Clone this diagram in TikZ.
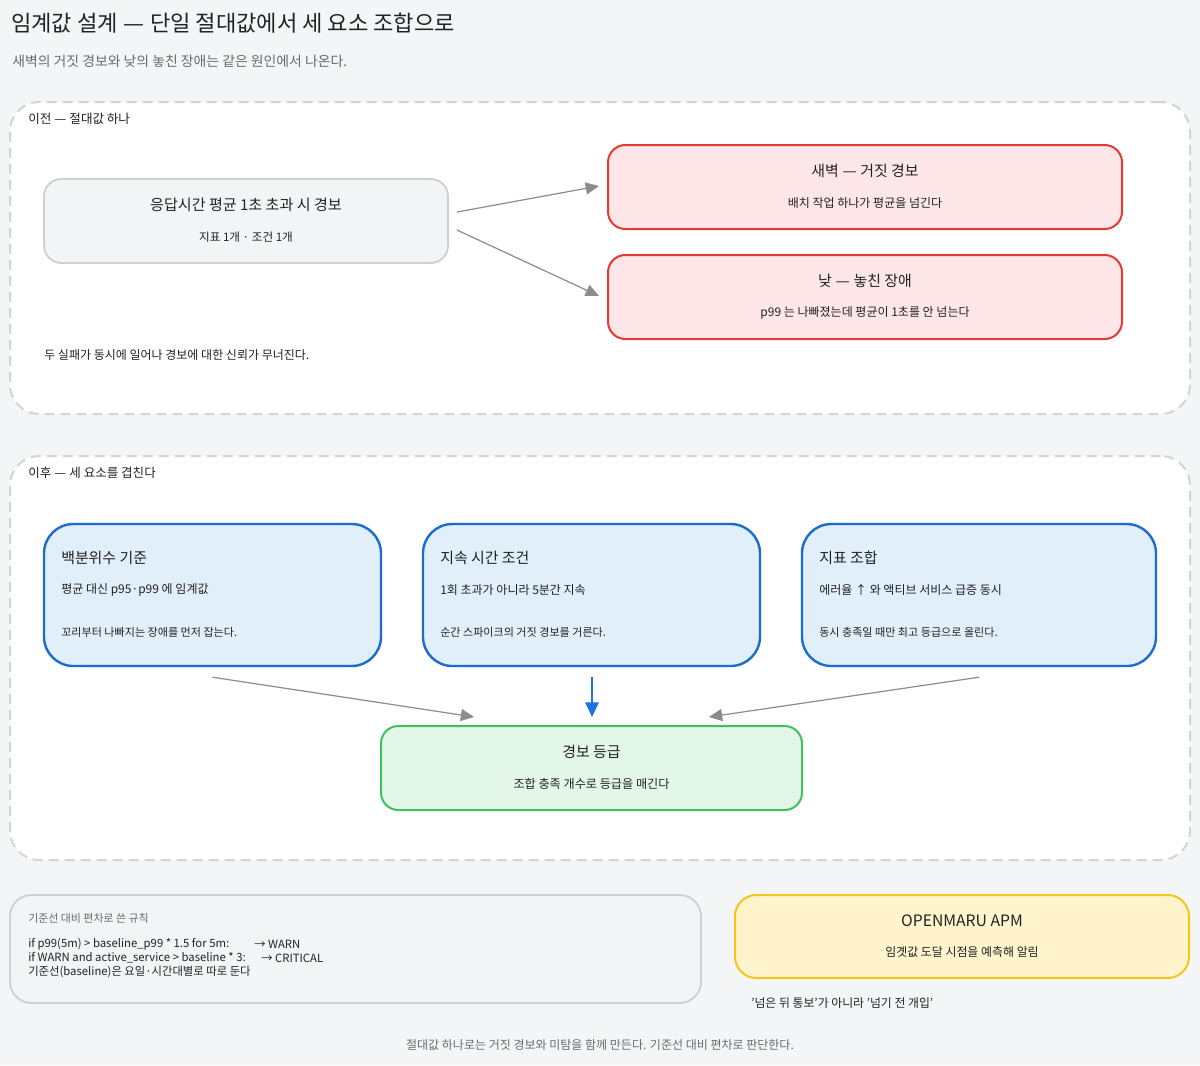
\documentclass[tikz,border=0pt]{standalone}
\usepackage{fontspec}
\setmainfont{Noto Sans CJK KR}
\usetikzlibrary{arrows.meta,calc}
\definecolor{bgc}{HTML}{F4F5F7}
\definecolor{dashc}{HTML}{D3D4D8}
\definecolor{grayfill}{HTML}{F3F4F6}
\definecolor{graystroke}{HTML}{CFD0D3}
\definecolor{redfill}{HTML}{FDE6E8}
\definecolor{redstroke}{HTML}{E53935}
\definecolor{bluefill}{HTML}{E1EFFB}
\definecolor{bluestroke}{HTML}{1A6DCC}
\definecolor{greenfill}{HTML}{E3F7E8}
\definecolor{greenstroke}{HTML}{3CC35A}
\definecolor{yellowfill}{HTML}{FFF4CC}
\definecolor{yellowstroke}{HTML}{F5C518}
\definecolor{arrowgray}{HTML}{8C8C8C}
\definecolor{arrowblue}{HTML}{1A73E8}
\definecolor{darktext}{HTML}{222222}
\definecolor{greytext}{HTML}{6B6B6B}
\newcommand{\fsz}[1]{\fontsize{#1}{#1}\selectfont}
\newcommand{\emd}{\makebox[1em]{\resizebox{0.95em}{\height}{—}}}
\begin{document}
\begin{tikzpicture}[x=0.75pt,y=-0.75pt,
  txt/.style={inner sep=0pt, text=darktext},
  grouprect/.style={draw=dashc, fill=white, line width=1.5pt, dash pattern=on 7.5pt off 4.5pt, rounded corners=22pt},
  graybox/.style={draw=graystroke, fill=grayfill, line width=1.4pt, rounded corners=13pt},
  redbox/.style={draw=redstroke, fill=redfill, line width=1.5pt, rounded corners=13pt},
  bluebox/.style={draw=bluestroke, fill=bluefill, line width=1.8pt, rounded corners=22pt},
  greenbox/.style={draw=greenstroke, fill=greenfill, line width=1.5pt, rounded corners=13pt},
  yellowbox/.style={draw=yellowstroke, fill=yellowfill, line width=1.5pt, rounded corners=16pt},
  rulebox/.style={draw=graystroke, fill=grayfill, line width=1.4pt, rounded corners=16pt},
  grayarrow/.style={draw=arrowgray, line width=0.9pt, -{Triangle[length=10pt,width=9pt]}, arrowgray},
  bluearrow/.style={draw=arrowblue, line width=1.5pt, -{Triangle[length=11pt,width=10pt]}, arrowblue}
]
\useasboundingbox[fill=bgc] (0,0) rectangle (1200,1065);

% title
\node[txt, anchor=west, font=\fsz{16.6}] (title) at (11,23) {임계값 설계 \emd{} 단일 절대값에서 세 요소 조합으로};
\node[txt, anchor=west, font=\fsz{10.4}, text=greytext] (subtitle) at (12,61) {새벽의 거짓 경보와 낮의 놓친 장애는 같은 원인에서 나온다.};

% group 1
\node[grouprect, minimum width=885pt, minimum height=234pt] (g1) at (600,258) {};
\node[txt, anchor=west, font=\fsz{9.4}] (g1label) at (28,119) {이전 \emd{} 절대값 하나};

\node[graybox, minimum width=303pt, minimum height=63pt] (A) at (246,221) {};
\node[txt, font=\fsz{11.3}] (Atitle) at (246,205) {응답시간 평균 1초 초과 시 경보};
\node[txt, font=\fsz{8.7}] (Asub) at (246,237) {지표 1개 · 조건 1개};

\node[redbox, minimum width=385.5pt, minimum height=63pt] (R1) at (865,187) {};
\node[txt, font=\fsz{11.2}] (R1title) at (865,171) {새벽 \emd{} 거짓 경보};
\node[txt, font=\fsz{9}] (R1sub) at (865,203) {배치 작업 하나가 평균을 넘긴다};

\node[redbox, minimum width=385.5pt, minimum height=63pt] (R2) at (865,297) {};
\node[txt, font=\fsz{11.2}] (R2title) at (865,281) {낮 \emd{} 놓친 장애};
\node[txt, font=\fsz{9}] (R2sub) at (865,313) {p99 는 나빠졌는데 평균이 1초를 안 넘는다};

\draw[grayarrow] ([xshift=6pt,yshift=6.75pt]A.east) -- ([xshift=-6pt,yshift=0.75pt]R1.west);
\draw[grayarrow] ([xshift=6pt,yshift=-6.75pt]A.east) -- ([xshift=-6pt,yshift=0.75pt]R2.west);

\node[txt, anchor=west, font=\fsz{9}] (g1note) at (44,355) {두 실패가 동시에 일어나 경보에 대한 신뢰가 무너진다.};

% group 2
\node[grouprect, minimum width=885pt, minimum height=303pt] (g2) at (600,658) {};
\node[txt, anchor=west, font=\fsz{9.4}] (g2label) at (28,473) {이후 \emd{} 세 요소를 겹친다};

\node[bluebox, minimum width=252.75pt, minimum height=106.5pt] (B1) at (212.5,595) {};
\node[txt, anchor=west, font=\fsz{11.2}] (B1title) at (61,558) {백분위수 기준};
\node[txt, anchor=west, font=\fsz{9}] (B1l2) at (61,590) {평균 대신 p95·p99 에 임계값};
\node[txt, anchor=west, font=\fsz{8.3}] (B1l3) at (61,632) {꼬리부터 나빠지는 장애를 먼저 잡는다.};

\node[bluebox, minimum width=252.75pt, minimum height=106.5pt] (B2) at (591.5,595) {};
\node[txt, anchor=west, font=\fsz{11.2}] (B2title) at (440,558) {지속 시간 조건};
\node[txt, anchor=west, font=\fsz{9}] (B2l2) at (440,590) {1회 초과가 아니라 5분간 지속};
\node[txt, anchor=west, font=\fsz{8.3}] (B2l3) at (440,632) {순간 스파이크의 거짓 경보를 거른다.};

\node[bluebox, minimum width=265.5pt, minimum height=106.5pt] (B3) at (979,595) {};
\node[txt, anchor=west, font=\fsz{11.2}] (B3title) at (819,558) {지표 조합};
\node[txt, anchor=west, font=\fsz{9}] (B3l2) at (819,590) {에러율 ↑ 와 액티브 서비스 급증 동시};
\node[txt, anchor=west, font=\fsz{8.3}] (B3l3) at (819,632) {동시 충족일 때만 최고 등급으로 올린다.};

\node[greenbox, minimum width=315.75pt, minimum height=63pt] (G) at (591.5,768) {};
\node[txt, font=\fsz{11.2}] (Gtitle) at (591.5,752) {경보 등급};
\node[txt, font=\fsz{9.1}] (Gsub) at (591.5,784) {조합 충족 개수로 등급을 매긴다};

\draw[grayarrow] ([yshift=-7.5pt]B1.south) -- ([xshift=-88pt,yshift=6pt]G.north);
\draw[bluearrow] ([xshift=0.4pt,yshift=-7.5pt]B2.south) -- ([xshift=0.4pt,yshift=6pt]G.north);
\draw[grayarrow] ([yshift=-7.5pt]B3.south) -- ([xshift=88pt,yshift=6pt]G.north);

% rules box
\node[rulebox, minimum width=518.25pt, minimum height=81pt] (RB) at (355.5,949) {};
\node[txt, anchor=west, font=\fsz{8.2}, text=greytext] (RBlabel) at (28,918) {기준선 대비 편차로 쓴 규칙};
\node[txt, anchor=west, font=\fsz{8.5}] (code1) at (28,944) {if p99(5m) > baseline\_p99 * 1.5 for 5m:};
\node[txt, anchor=west, font=\fsz{8.5}] (code1r) at (254,944) {→ WARN};
\node[txt, anchor=west, font=\fsz{8.5}] (code2) at (28,958) {if WARN and active\_service > baseline * 3:};
\node[txt, anchor=west, font=\fsz{8.5}] (code2r) at (261,958) {→ CRITICAL};
\node[txt, anchor=west, font=\fsz{8.5}] (code3) at (28,972) {기준선(baseline)은 요일·시간대별로 따로 둔다};

% yellow box
\node[yellowbox, minimum width=340.5pt, minimum height=62.25pt] (Y) at (962,936.5) {};
\node[txt, font=\fsz{11.8}] (Ytitle) at (962,921) {OPENMARU APM};
\node[txt, font=\fsz{8.95}] (Ysub) at (962,952) {임곗값 도달 시점을 예측해 알림};
\node[txt, anchor=west, font=\fsz{8.9}] (Ynote) at (751,1003) {'넘은 뒤 통보'가 아니라 '넘기 전 개입'};

% footer
\node[txt, font=\fsz{9}, text=greytext] (footer) at (600,1045) {절대값 하나로는 거짓 경보와 미탐을 함께 만든다. 기준선 대비 편차로 판단한다.};
\end{tikzpicture}
\end{document}
